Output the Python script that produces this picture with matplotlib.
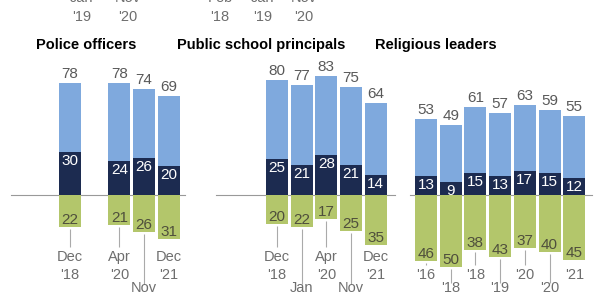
import matplotlib
matplotlib.use("Agg")
import matplotlib.pyplot as plt

# ---------- data ----------
slot_months = ["Dec", "Jan", "Dec", "Jan", "Apr", "Nov", "Dec"]
slot_years = ["'16", "'18", "'18", "'19", "'20", "'20", "'21"]
lower_slots = [1, 3, 5]   # staggered labels

police_slots = [2, 4, 5, 6]
police_total = [78, 78, 74, 69]
police_strong = [30, 24, 26, 20]
police_neg = [22, 21, 26, 31]

principal_slots = [2, 3, 4, 5, 6]
principal_total = [80, 77, 83, 75, 64]
principal_strong = [25, 21, 28, 21, 14]
principal_neg = [20, 22, 17, 25, 35]

religious_slots = [0, 1, 2, 3, 4, 5, 6]
religious_total = [53, 49, 61, 57, 63, 59, 55]
religious_strong = [13, 9, 15, 13, 17, 15, 12]
religious_neg = [46, 50, 38, 43, 37, 40, 45]

titles = ["Police officers", "Public school principals", "Religious leaders"]

# partial labels from the row above (cut at the top edge)
above_x = [82, 128, 220, 263, 304]
above_months = ["Jan", "Nov", "Feb", "Jan", "Nov"]
above_years = ["'19", "'20", "'18", "'19", "'20"]

LIGHT = "#7fa9dd"
DARK = "#1c2b50"
GREEN = "#b3c66b"
GRAY = "#6e6e6e"
FONT = ["Liberation Sans", "DejaVu Sans"]

W, H = 600, 300
PX = 1.435          # pixels per percentage point
BASE = 195          # baseline pixel row
SLOT = 24.7         # pixels per slot


def py(y):
    # pixel row -> data value
    return (BASE - y) / PX


fig = plt.figure(figsize=(6, 3), dpi=100)
plt.rcParams["font.family"] = FONT

panels = [
    (police_slots, police_total, police_strong, police_neg, 20.5, (-0.4, 6.65), False),
    (principal_slots, principal_total, principal_strong, principal_neg, 227.5, (-0.47, 6.8), False),
    (religious_slots, religious_total, religious_strong, religious_neg, 426, (-0.65, 6.72), True),
]

x0, x1 = -0.7, 6.9
top_px = 70
for i, (slots, total, strong, neg, slot0, line_ext, years_only) in enumerate(panels):
    left = slot0 + x0 * SLOT
    ax = fig.add_axes([left / W, 0, (x1 - x0) * SLOT / W, (H - top_px) / H])
    ax.set_xlim(x0, x1)
    ax.set_ylim(py(H), py(top_px))
    ax.axis("off")

    ax.plot(line_ext, [0, 0], color="#999999", lw=0.8, zorder=1)
    bw = 22 / SLOT
    ax.bar(slots, total, width=bw, color=LIGHT, zorder=2)
    ax.bar(slots, strong, width=bw, color=DARK, zorder=3)
    ax.bar(slots, [-v for v in neg], width=bw, color=GREEN, zorder=3)

    for s, t, d, n in zip(slots, total, strong, neg):
        ax.annotate(str(t), (s, t), xytext=(0, 2), textcoords="offset pixels",
                    ha="center", va="bottom", fontsize=11, color="#595959")
        ax.annotate(str(d), (s, d), xytext=(0, -2), textcoords="offset pixels",
                    ha="center", va="top", fontsize=11, color="white", zorder=5)
        ax.annotate(str(n), (s, -n), xytext=(0, 3), textcoords="offset pixels",
                    ha="center", va="baseline", fontsize=11, color="#4f4f3c", zorder=5)

        low = s in lower_slots
        if years_only:
            line_end = py(283) if low else py(265)
        else:
            line_end = py(284) if low else py(247)
        if s != slots[-1]:
            ax.vlines(s, line_end, -n - 2 / PX, color="#aaaaaa", lw=0.8)

        if years_only:
            ax.text(s, py(288) if low else py(275), slot_years[s], ha="center",
                    va="center", fontsize=10.5, color=GRAY)
        elif low:
            # the year line falls below the picture edge
            ax.text(s, py(288), slot_months[s], ha="center", va="center",
                    fontsize=10.5, color=GRAY)
        else:
            ax.text(s, py(257), slot_months[s], ha="center", va="center",
                    fontsize=10.5, color=GRAY)
            ax.text(s, py(275), slot_years[s], ha="center", va="center",
                    fontsize=10.5, color=GRAY)

# panel titles
for tx, title in zip([86, 261, 436], titles):
    fig.text(tx / W, 1 - 45 / H, title, ha="center", va="center",
             fontsize=10.5, fontweight="bold", color="black")

# leftover labels from the row above
for x, m, yr in zip(above_x, above_months, above_years):
    fig.text(x / W, 1 - 17 / H, yr, ha="center", va="center", fontsize=10.5, color=GRAY)
    fig.text(x / W, 1 - (-2) / H, m, ha="center", va="center", fontsize=10.5, color=GRAY)

fig.savefig("out.png", dpi=100)
